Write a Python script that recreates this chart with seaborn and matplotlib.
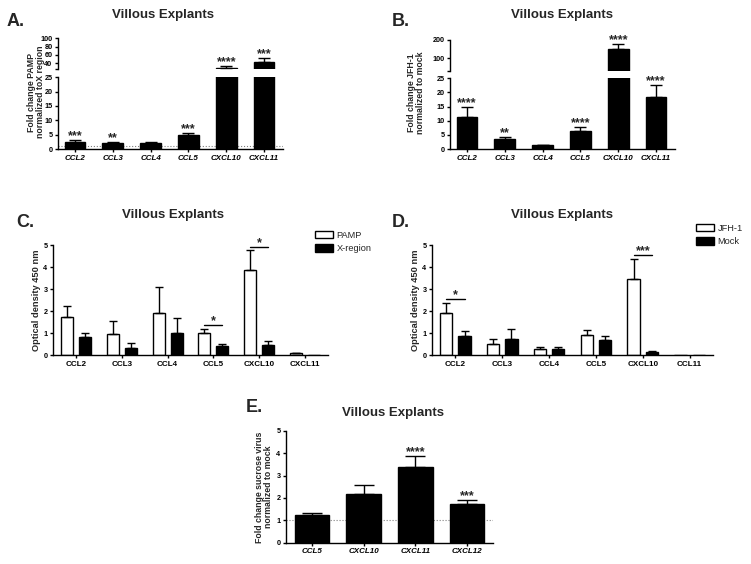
import numpy as np
import pandas as pd
import matplotlib
matplotlib.use("Agg")
import matplotlib.pyplot as plt
import seaborn as sns

sns.set_theme(style="ticks")
plt.rcParams['font.family'] = ['Liberation Sans', 'DejaVu Sans']

# ---------------- data ----------------
a_genes = ["CCL2", "CCL3", "CCL4", "CCL5", "CXCL10", "CXCL11"]
a_mean = [2.6, 2.0, 2.2, 4.9, 28.5, 42.0]
a_err_top = [3.0, 2.4, 2.5, 5.7, 33.0, 53.0]
a_stars = ["***", "**", "", "***", "****", "***"]

b_genes = ["CCL2", "CCL3", "CCL4", "CCL5", "CXCL10", "CXCL11"]
b_mean = [11.2, 3.4, 1.3, 6.5, 149.0, 18.4]
b_err_top = [14.8, 4.3, 1.5, 7.7, 178.0, 22.6]
b_stars = ["****", "**", "", "****", "****", "****"]

c_genes = ["CCL2", "CCL3", "CCL4", "CCL5", "CXCL10", "CXCL11"]
c_groups = ["PAMP", "X-region"]
c_pamp = [1.74, 0.94, 1.89, 1.00, 3.85, 0.08]
c_pamp_err = [2.24, 1.56, 3.08, 1.20, 4.76, 0.10]
c_xreg = [0.83, 0.33, 1.02, 0.42, 0.45, 0.0]
c_xreg_err = [1.02, 0.53, 1.67, 0.50, 0.64, 0.0]
c_sig = {"CCL5": "*", "CXCL10": "*"}

d_genes = ["CCL2", "CCL3", "CCL4", "CCL5", "CXCL10", "CCL11"]
d_groups = ["JFH-1", "Mock"]
d_jfh = [1.89, 0.50, 0.27, 0.92, 3.44, 0.0]
d_jfh_err = [2.38, 0.73, 0.35, 1.14, 4.36, 0.0]
d_mock = [0.86, 0.71, 0.26, 0.67, 0.15, 0.0]
d_mock_err = [1.09, 1.20, 0.38, 0.86, 0.18, 0.0]
d_sig = {"CCL2": "*", "CXCL10": "***"}

e_genes = ["CCL5", "CXCL10", "CXCL11", "CXCL12"]
e_mean = [1.22, 2.17, 3.36, 1.73]
e_err_top = [1.31, 2.56, 3.87, 1.90]
e_stars = ["", "", "****", "***"]

# ---------------- layout helpers ----------------
W, H = 751, 564
fig = plt.figure(figsize=(W / 100, H / 100), dpi=100)
fig.patch.set_facecolor("white")


def ax_at(left, top, right, bottom):
    return fig.add_axes([left / W, 1 - bottom / H, (right - left) / W, (bottom - top) / H])


def ftext(x, y, s, **kw):
    return fig.text(x / W, 1 - y / H, s, **kw)


TICK_FS = 5.2
STAR_FS = 9
LW = 1.0
STAR_OFF = 0.6


def style(ax, italic=True, xaxis=True):
    sns.despine(ax=ax)
    for sp in ["left", "bottom"]:
        ax.spines[sp].set_linewidth(LW)
        ax.spines[sp].set_color("black")
    ax.tick_params(axis="both", direction="out", length=2.5, width=LW, colors="black",
                   labelsize=TICK_FS, pad=1.5)
    for t in ax.get_yticklabels():
        t.set_fontweight("bold")
    if xaxis:
        for t in ax.get_xticklabels():
            t.set_fontweight("bold")
            t.set_fontsize(TICK_FS + 0.6)
            if italic:
                t.set_fontstyle("italic")
    ax.set_xlabel("")
    ax.set_ylabel("")
    ax.set_facecolor("white")


def single_bars(ax, genes, mean, width):
    sns.barplot(x=genes, y=mean, color="black", edgecolor="black", linewidth=LW,
                width=width, saturation=1, errorbar=None, ax=ax)
    return list(ax.patches)


def add_err(ax, patches, means, tops, cap, y_min=None):
    for p, m, t in zip(patches, means, tops):
        if t <= m:
            continue
        if y_min is not None and t <= y_min:
            continue
        cx = p.get_x() + p.get_width() / 2
        ax.errorbar(cx, m, yerr=[[0], [t - m]], fmt="none", ecolor="black",
                    elinewidth=LW, capsize=cap, capthick=LW, clip_on=True)


def add_stars(ax, patches, tops, stars):
    for p, t, s in zip(patches, tops, stars):
        if not s:
            continue
        cx = p.get_x() + p.get_width() / 2
        ax.annotate(s, (cx, t), xytext=(0, STAR_OFF), textcoords="offset points",
                    ha="center", va="baseline", fontsize=STAR_FS, fontweight="bold")


# ---------------- broken-axis panels (A, B) ----------------
def broken_panel(x0, x1, genes, mean, tops, stars, up_lim, up_ticks, up_top, up_bot,
                 lo_top, lo_bot, dotted):
    ax_up = ax_at(x0, up_top, x1, up_bot)
    ax_lo = ax_at(x0, lo_top, x1, lo_bot)
    p_lo = single_bars(ax_lo, genes, mean, 0.55)
    p_up = single_bars(ax_up, genes, mean, 0.55)
    add_err(ax_lo, p_lo, mean, tops, 4.3)
    add_err(ax_up, p_up, mean, tops, 4.3, y_min=up_lim[0])
    for ax in (ax_up, ax_lo):
        ax.set_xlim(-0.45, len(genes) - 0.5)
    ax_lo.set_ylim(0, 25)
    ax_lo.set_yticks([0, 5, 10, 15, 20, 25])
    ax_up.set_ylim(*up_lim)
    ax_up.set_yticks([up_lim[0]] + up_ticks)
    ax_up.set_yticklabels([""] + [str(v) for v in up_ticks])
    if dotted:
        ax_lo.axhline(1, color="gray", ls=":", lw=0.8, zorder=0)
    style(ax_lo)
    style(ax_up, xaxis=False)
    ax_up.spines["bottom"].set_visible(False)
    ax_up.tick_params(axis="x", bottom=False, labelbottom=False)
    lo_stars = [s if t <= 25 else "" for t, s in zip(tops, stars)]
    up_stars = [s if t > 25 else "" for t, s in zip(tops, stars)]
    add_stars(ax_lo, p_lo, tops, lo_stars)
    add_stars(ax_up, p_up, tops, up_stars)
    return ax_up, ax_lo


broken_panel(58, 283, a_genes, a_mean, a_err_top, a_stars, (25, 100), [40, 60, 80, 100],
             38.3, 69.3, 77.3, 149, True)
ftext(163, 15, "Villous Explants", ha="center", va="center", fontsize=9.5, fontweight="bold")
ftext(7, 22, "A.", ha="left", va="center", fontsize=13, fontweight="bold")
ftext(36, 92, "Fold change PAMP\nnormalized toX region", ha="center", va="center",
      rotation=90, fontsize=6.3, fontweight="bold", linespacing=1.05)

broken_panel(450, 675, b_genes, b_mean, b_err_top, b_stars, (30, 200), [100, 200],
             40, 70.7, 78.3, 149, False)
ftext(562, 15, "Villous Explants", ha="center", va="center", fontsize=9.5, fontweight="bold")
ftext(392, 22, "B.", ha="left", va="center", fontsize=13, fontweight="bold")
ftext(416, 93, "Fold change JFH-1\nnormalized to mock", ha="center", va="center",
      rotation=90, fontsize=6.3, fontweight="bold", linespacing=1.05)


# ---------------- Panels C and D (grouped) ----------------
def grouped_panel(x0, x1, genes, groups, v1, e1, v2, e2, sig, leg_xy):
    ax = ax_at(x0, 245, x1, 355)
    df = pd.DataFrame({
        "gene": genes * 2,
        "group": [groups[0]] * len(genes) + [groups[1]] * len(genes),
        "value": v1 + v2,
    })
    sns.barplot(data=df, x="gene", y="value", hue="group", order=genes, hue_order=groups,
                palette={groups[0]: "white", groups[1]: "black"}, edgecolor="black",
                linewidth=LW, width=0.78, gap=0.33, saturation=1, errorbar=None,
                legend=False, ax=ax)
    c_white, c_black = ax.containers[0], ax.containers[1]
    add_err(ax, list(c_white), v1, e1, 2.9)
    add_err(ax, list(c_black), v2, e2, 2.9)
    ax.set_xlim(-0.5, len(genes) - 0.5)
    ax.set_ylim(0, 5)
    ax.set_yticks([0, 1, 2, 3, 4, 5])
    style(ax, italic=False)
    for i, g in enumerate(genes):
        if g in sig:
            pw, pb = c_white[i], c_black[i]
            xa = pw.get_x() + pw.get_width() / 2
            xb = pb.get_x() + pb.get_width() / 2
            yb = max(e1[i], e2[i]) + 0.17
            ax.plot([xa, xb], [yb, yb], color="black", lw=LW)
            ax.annotate(sig[g], ((xa + xb) / 2, yb), xytext=(0, STAR_OFF),
                        textcoords="offset points", ha="center", va="baseline",
                        fontsize=STAR_FS, fontweight="bold")
    ax.legend([c_white, c_black], groups, loc="upper left",
              bbox_to_anchor=(leg_xy[0] / W, 1 - leg_xy[1] / H), bbox_transform=fig.transFigure,
              frameon=False, fontsize=6.7, handlelength=1.9, handleheight=0.8,
              labelspacing=0.45, handletextpad=0.4, borderaxespad=0, borderpad=0)
    ax.set_ylabel("Optical density 450 nm", fontsize=6.7, fontweight="bold", labelpad=2)
    return ax


grouped_panel(53, 328, c_genes, c_groups, c_pamp, c_pamp_err, c_xreg, c_xreg_err, c_sig,
              (315, 231))
ftext(173, 215, "Villous Explants", ha="center", va="center", fontsize=9.5, fontweight="bold")
ftext(16, 223, "C.", ha="left", va="center", fontsize=13, fontweight="bold")

grouped_panel(432, 713, d_genes, d_groups, d_jfh, d_jfh_err, d_mock, d_mock_err, d_sig,
              (696, 224))
ftext(562, 215, "Villous Explants", ha="center", va="center", fontsize=9.5, fontweight="bold")
ftext(392, 223, "D.", ha="left", va="center", fontsize=13, fontweight="bold")

# ---------------- Panel E ----------------
ax_e = ax_at(286, 430.7, 493, 542.7)
pts = single_bars(ax_e, e_genes, e_mean, 0.67)
add_err(ax_e, pts, e_mean, e_err_top, 7.5)
ax_e.axhline(1, color="gray", ls=":", lw=0.8, zorder=0)
ax_e.set_xlim(-0.5, len(e_genes) - 0.5)
ax_e.set_ylim(0, 5)
ax_e.set_yticks([0, 1, 2, 3, 4, 5])
style(ax_e)
add_stars(ax_e, pts, e_err_top, e_stars)
ftext(393, 413, "Villous Explants", ha="center", va="center", fontsize=9.5, fontweight="bold")
ftext(246, 407, "E.", ha="left", va="center", fontsize=13, fontweight="bold")
ftext(264, 487, "Fold change sucrose virus\nnormalized to mock", ha="center", va="center",
      rotation=90, fontsize=6.3, fontweight="bold", linespacing=1.05)

fig.savefig("out.png", dpi=100, facecolor="white")
